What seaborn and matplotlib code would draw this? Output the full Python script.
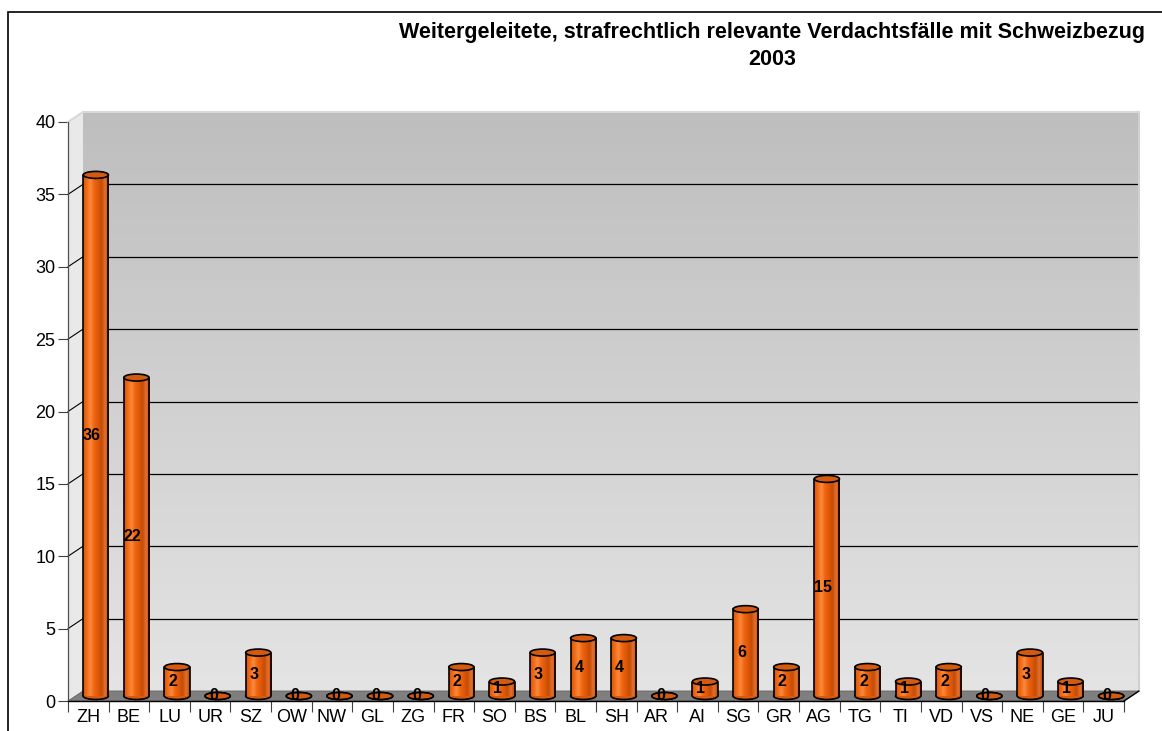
import seaborn as sns
import matplotlib.pyplot as plt
import matplotlib.transforms as mtransforms
from matplotlib.patches import Ellipse, Polygon, Rectangle
from matplotlib.colors import LinearSegmentedColormap
from matplotlib.lines import Line2D
import pandas as pd
import numpy as np

# -----------------------------
# Data
# -----------------------------
cantons = ["ZH", "BE", "LU", "UR", "SZ", "OW", "NW", "GL", "ZG", "FR", "SO", "BS", "BL",
           "SH", "AR", "AI", "SG", "GR", "AG", "TG", "TI", "VD", "VS", "NE", "GE", "JU"]
cases = [36, 22, 2, 0, 3, 0, 0, 0, 0, 2, 1, 3, 4, 4, 0, 1, 6, 2, 15, 2, 1, 2, 0, 3, 1, 0]
y_ticks = [0, 5, 10, 15, 20, 25, 30, 35, 40]
title = "Weitergeleitete, strafrechtlich relevante Verdachtsfälle mit Schweizbezug\n2003"

df = pd.DataFrame({"Kanton": cantons, "Faelle": cases})

# -----------------------------
# Style
# -----------------------------
sns.set_style("white")
plt.rcParams["font.family"] = ["Liberation Sans", "DejaVu Sans"]
plt.rcParams["text.color"] = "black"
plt.rcParams["xtick.color"] = "black"
plt.rcParams["ytick.color"] = "black"

W, H = 1162, 731
fig = plt.figure(figsize=(W / 100, H / 100), dpi=100)

# pseudo-3D depth in pixels
DX, DY = 15, 10

# back wall (offset axes)
ax_wall = fig.add_axes([(68 + DX) / W, (30 + DY) / H, 1056 / W, 579 / H], zorder=0)
ax_wall.set_ylim(0, 40)
ax_wall.set_xlim(0, 1)
wall_cmap = LinearSegmentedColormap.from_list("wall", ["#e4e4e4", "#bebebe"])
ax_wall.imshow(np.linspace(0, 1, 256).reshape(-1, 1), cmap=wall_cmap, origin="lower",
               extent=[0, 1, 0, 40], aspect="auto", zorder=0)
for v in y_ticks[1:-1]:
    ax_wall.axhline(v, color="black", lw=0.9, zorder=1)
for s in ["top", "left", "bottom"]:
    ax_wall.spines[s].set_visible(False)
ax_wall.spines["right"].set_color("#d0d0d0")
ax_wall.spines["right"].set_linewidth(1.5)
ax_wall.set_xticks([])
ax_wall.set_yticks([])

# main axes
ax = fig.add_axes([68 / W, 30 / H, 1056 / W, 579 / H], zorder=1)
ax.patch.set_alpha(0)

sns.barplot(data=df, x="Kanton", y="Faelle", color="#e8600c", width=0.62,
            linewidth=0, ax=ax, zorder=3)

ax.set_xlim(-0.5, len(cantons) - 0.5)
ax.set_ylim(0, 40)
ax.set_yticks(y_ticks)
ax.set_xlabel("")
ax.set_ylabel("")
ax.tick_params(axis="y", length=7, width=0.8, color="#404040", labelsize=13, pad=2, left=True)
ax.set_xticks(np.arange(len(cantons)))
ax.set_xticklabels(cantons)
ax.set_xticks(np.arange(len(cantons) + 1) - 0.5, minor=True)
ax.tick_params(axis="x", which="major", length=0, labelsize=13, pad=6)
ax.tick_params(axis="x", which="minor", length=8, width=0.8, color="#404040", bottom=True)
for s in ["top", "right"]:
    ax.spines[s].set_visible(False)
ax.spines["left"].set_color("#505050")
ax.spines["left"].set_linewidth(0.9)
ax.spines["bottom"].set_color("black")
ax.spines["bottom"].set_linewidth(1.0)

# pixel helpers
def to_px(x, y):
    return ax.transData.transform((x, y))

def to_data(p):
    return ax.transData.inverted().transform(p)

x0, x1 = -0.5, len(cantons) - 0.5

# floor
p00, p10 = to_px(x0, 0), to_px(x1, 0)
floor_px = [p00, p10, p10 + [DX, DY], p00 + [DX, DY]]
ax.add_patch(Polygon([to_data(p) for p in floor_px], closed=True, facecolor="#7f7f7f",
                     edgecolor="#606060", lw=0.6, zorder=1, clip_on=False))
ax.add_line(Line2D(*zip(*[to_data(p10), to_data(p10 + [DX, DY])]), color="black",
                   lw=1.0, zorder=1.5, clip_on=False))

# left side wall
p01 = to_px(x0, 40)
side_px = [p00 + [0, 0], p01, p01 + [DX, DY], p00 + [DX, DY]]
ax.add_patch(Polygon([to_data(p) for p in side_px], closed=True, facecolor="#e9e9e9",
                     edgecolor="none", zorder=0.5, clip_on=False))
ax.add_line(Line2D(*zip(*[to_data(p01), to_data(p01 + [DX, DY])]), color="#d8d8d8",
                   lw=1.5, zorder=0.6, clip_on=False))
ax.add_line(Line2D(*zip(*[to_data(p01 + [DX, DY]), to_data(to_px(x1, 40) + [DX, DY])]),
                   color="#d8d8d8", lw=1.5, zorder=0.6, clip_on=False))

# diagonal connectors from ticks to the wall
for v in y_ticks[1:-1]:
    p = to_px(x0, v)
    ax.add_line(Line2D(*zip(*[to_data(p), to_data(p + [DX, DY])]), color="black",
                       lw=0.8, zorder=0.7, clip_on=False))

# cylinders
bar_tr = mtransforms.offset_copy(ax.transData, fig=fig, x=DX / 2, y=DY / 2, units="dots")
cyl_cmap = LinearSegmentedColormap.from_list(
    "cyl", ["#d95406", "#f26a14", "#f98a3c", "#f06410", "#e05a08", "#c54c04",
            "#e27030", "#b84804"])
ell_h = 7 / (to_px(0, 1)[1] - to_px(0, 0)[1])
grad = np.linspace(0, 1, 128).reshape(1, -1)

for patch, v in zip(ax.patches, cases):
    patch.set_transform(bar_tr)
    bx, bw = patch.get_x(), patch.get_width()
    cx = bx + bw / 2
    # bottom ellipse (only lower half visible)
    ax.add_patch(Ellipse((cx, 0), bw, ell_h, transform=bar_tr, facecolor="#d95a0c",
                         edgecolor="black", lw=1.2, zorder=2.5, clip_on=False))
    if v > 0:
        im = ax.imshow(grad, cmap=cyl_cmap, extent=[bx, bx + bw, 0, v], aspect="auto",
                       transform=bar_tr, zorder=3.2, interpolation="bilinear")
        im.set_clip_path(patch)
        ax.add_line(Line2D([bx, bx], [0, v], transform=bar_tr, color="black", lw=1.2,
                           zorder=3.5, clip_on=False))
        ax.add_line(Line2D([bx + bw, bx + bw], [0, v], transform=bar_tr, color="black",
                           lw=1.2, zorder=3.5, clip_on=False))
    # top ellipse
    ax.add_patch(Ellipse((cx, v), bw, ell_h, transform=bar_tr, facecolor="#d35a10",
                         edgecolor="black", lw=1.2, zorder=4, clip_on=False))
    ax.text(cx - 0.1, v / 2, str(v), transform=bar_tr, ha="center", va="center",
            fontsize=11.5, fontweight="bold", color="black", zorder=5)

ax.set_xlim(x0, x1)
ax.set_ylim(0, 40)
ax.set_aspect("auto")

# title
fig.text(772 / W, 1 - 46 / H, title, ha="center", va="center", fontsize=15.5,
         fontweight="bold", linespacing=1.38, color="black")

# outer frame (runs off the right and bottom edges)
fig.patches.append(Rectangle((8 / W, -0.1), 1.2, 1.1 - 12 / H, transform=fig.transFigure,
                             fill=False, edgecolor="black", lw=1.2))

fig.savefig("out.png", dpi=100)
plt.close(fig)
